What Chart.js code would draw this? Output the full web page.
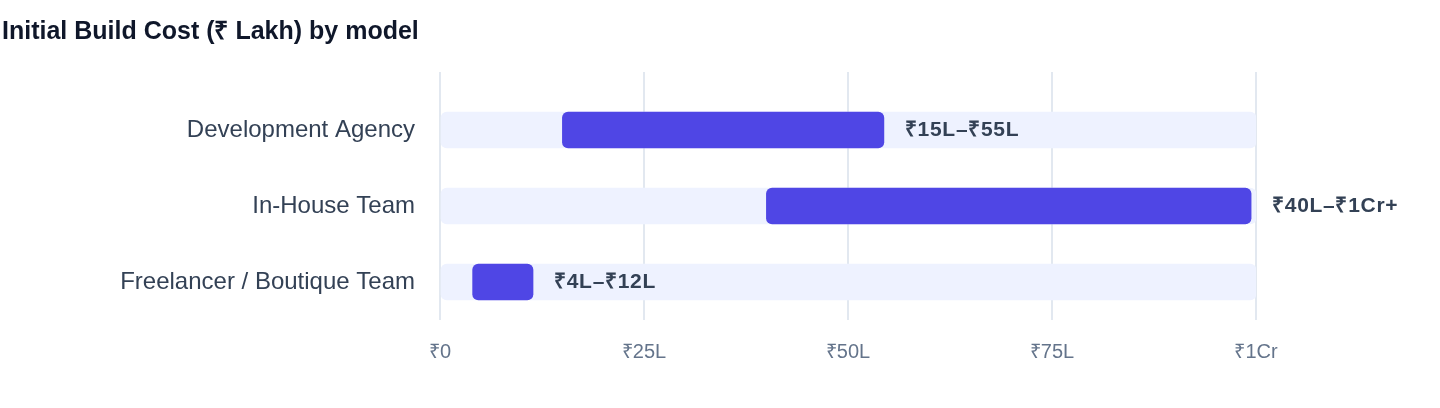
<!DOCTYPE html>
<html>
<head>
<meta charset="utf-8">
<script src="https://cdn.jsdelivr.net/npm/chart.js"></script>
<style>
  html, body { margin: 0; padding: 0; background: #fff; }
  #wrap { position: relative; width: 1440px; height: 408px; }
</style>
</head>
<body>
<div id="wrap"><canvas id="chart"></canvas></div>
<script>
// Data
const models = ['Development Agency', 'In-House Team', 'Freelancer / Boutique Team'];
const costLow = [15, 40, 4];
const costHigh = [54.4, 99.4, 11.4];
const trackMax = [100, 100, 100];
const rangeLabels = ['₹15L–₹55L', '₹40L–₹1Cr+', '₹4L–₹12L'];
const tickLabels = { 0: '₹0', 25: '₹25L', 50: '₹50L', 75: '₹75L', 100: '₹1Cr' };

const FONT = "'Liberation Sans', Arial, Helvetica, sans-serif";

// draws the range text just past the end of each bar
const rangeLabelPlugin = {
  id: 'rangeLabels',
  afterDatasetsDraw(chart) {
    const ctx = chart.ctx;
    const meta = chart.getDatasetMeta(0);
    ctx.save();
    ctx.font = `bold 21px ${FONT}`;
    ctx.letterSpacing = '0.7px';
    ctx.fillStyle = '#334155';
    ctx.textAlign = 'left';
    ctx.textBaseline = 'middle';
    meta.data.forEach((bar, i) => {
      const end = chart.scales.x.getPixelForValue(costHigh[i]);
      ctx.fillText(rangeLabels[i], end + 21, bar.y);
    });
    ctx.restore();
  }
};

new Chart(document.getElementById('chart'), {
  type: 'bar',
  data: {
    labels: models,
    datasets: [
      {
        label: 'Cost range',
        data: costLow.map((lo, i) => [lo, costHigh[i]]),
        backgroundColor: '#4f46e5',
        borderRadius: 6,
        borderSkipped: false,
        barThickness: 36,
        grouped: false,
        order: 1,
      },
      {
        label: 'Track',
        data: trackMax,
        backgroundColor: '#eef2ff',
        borderRadius: 6,
        borderSkipped: false,
        barThickness: 36,
        grouped: false,
        order: 2,
      },
    ],
  },
  options: {
    indexAxis: 'y',
    responsive: true,
    maintainAspectRatio: false,
    animation: false,
    layout: { padding: { left: 2, right: 184, top: 0, bottom: 0 } },
    plugins: {
      legend: { display: false },
      tooltip: { enabled: false },
      title: {
        display: true,
        text: 'Initial Build Cost (₹ Lakh) by model',
        align: 'start',
        color: '#0f172a',
        font: { family: FONT, size: 25, weight: 'bold', lineHeight: 1.2 },
        padding: { top: 17, bottom: 25 },
      },
    },
    scales: {
      x: {
        type: 'linear',
        min: 0,
        max: 100,
        ticks: {
          stepSize: 25,
          color: '#64748b',
          font: { family: FONT, size: 20 },
          padding: 20,
          callback: (v) => tickLabels[v],
        },
        grid: { color: '#e2e8f0', drawTicks: false, lineWidth: 2 },
        border: { display: false },
        afterFit: (s) => { s.height = 88; },
      },
      xTop: {
        type: 'linear',
        position: 'top',
        min: 0,
        max: 100,
        ticks: { stepSize: 25, display: false },
        grid: { color: '#e2e8f0', drawOnChartArea: false, drawTicks: true, tickLength: 20, lineWidth: 2 },
        border: { display: false },
      },
      y: {
        type: 'category',
        ticks: {
          color: '#334155',
          font: { family: FONT, size: 24 },
          padding: 25,
        },
        grid: { display: false, drawTicks: false },
        border: { display: false },
        afterFit: (s) => { s.width = 438; },
      },
    },
  },
  plugins: [rangeLabelPlugin],
});
</script>
</body>
</html>
